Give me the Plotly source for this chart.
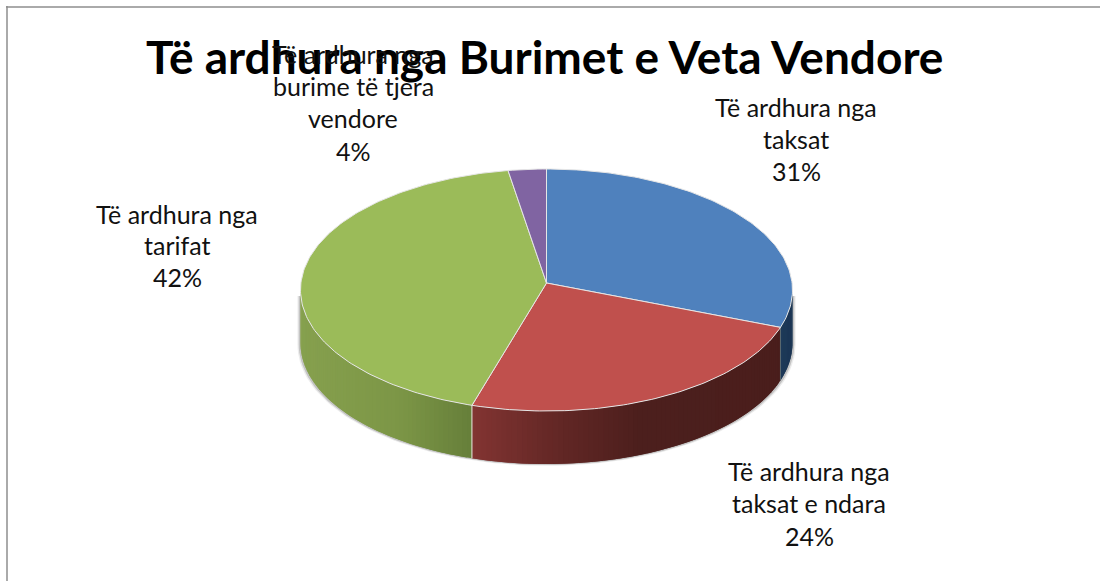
import math
import plotly.graph_objects as go

# --- data ---
categories = ["Të ardhura nga taksat", "Të ardhura nga taksat e ndara",
              "Të ardhura nga tarifat", "Të ardhura nga burime të tjera vendore"]
label_percent = ["31%", "24%", "42%", "4%"]          # printed on the chart
drawn_share = [30.0, 24.9, 42.6, 2.5]                # wedge sizes as drawn (perspective)
title_text = "Të ardhura nga Burimet e Veta Vendore"
label_lines = [["Të ardhura nga", "taksat"], ["Të ardhura nga", "taksat e ndara"],
               ["Të ardhura nga", "tarifat"], ["Të ardhura nga", "burime të tjera", "vendore"]]

# --- style / layout ---
top_colors = ["#4f81bd", "#c0504d", "#9bbb59", "#8064a2"]
wall_stops = [
    [(780, (30, 58, 90)), (793, (26, 52, 82))],
    [(472, (130, 52, 50)), (560, (98, 39, 37)), (640, (76, 31, 29)), (790, (74, 30, 28))],
    [(300, (134, 160, 78)), (400, (124, 150, 70)), (472, (102, 127, 58))],
    [(300, (90, 70, 110)), (793, (90, 70, 110))],
]
label_pos = [(796, [107, 139, 171]), (809, [471, 503, 536]),
             (177, [214, 245, 277]), (353, [54, 86, 118, 151])]
CX, CY, RX, RY, DEPTH = 546.5, 290.0, 246.0, 121.0, 53.0
APEX_Y = 283.0
FONT = "Lato"


def pt(deg, dy=0.0, grow=0.0):
    a = math.radians(deg)
    return CX + (RX + grow) * math.sin(a), CY - RY * math.cos(a) + dy


def wall_color(stops, x):
    if x <= stops[0][0]:
        c = stops[0][1]
    elif x >= stops[-1][0]:
        c = stops[-1][1]
    else:
        for (x0, c0), (x1, c1) in zip(stops, stops[1:]):
            if x0 <= x <= x1:
                t = (x - x0) / (x1 - x0)
                c = tuple(c0[i] + (c1[i] - c0[i]) * t for i in range(3))
                break
    return "rgb(%d,%d,%d)" % tuple(round(v) for v in c)


def frange(a, b, step):
    n = max(1, int(math.ceil((b - a) / step)))
    return [a + (b - a) * i / n for i in range(n + 1)]


total = sum(drawn_share)
edges = [0.0]
for v in drawn_share:
    edges.append(edges[-1] + v / total * 360)

fig = go.Figure()


def poly(xs, ys, fill, line=None, width=0):
    fig.add_trace(go.Scatter(x=xs, y=ys, mode="lines", fill="toself" if fill else None,
                             fillcolor=fill, line=dict(color=line or fill or "#000", width=width),
                             hoverinfo="skip", showlegend=False))


# soft shadow round the wall
for grow, col in [(3.0, "#ececec"), (1.8, "#c4c4c4")]:
    arc = [pt(d, DEPTH + grow * 0.6, grow) for d in frange(90, 270, 2)]
    upper = [pt(270, 6, grow), pt(90, 6, grow)]
    xs = [p[0] for p in arc] + [p[0] for p in upper] + [arc[0][0]]
    ys = [p[1] for p in arc] + [p[1] for p in upper] + [arc[0][1]]
    poly(xs, ys, col)

# walls (front half only); each strip overlaps the next to avoid seams
for i in range(len(drawn_share)):
    a, b = max(edges[i], 90), min(edges[i + 1], 270)
    if b <= a:
        continue
    angs = frange(a, b, 1.2)
    for k, (d0, d1) in enumerate(zip(angs, angs[1:])):
        x0, y0 = pt(d0)
        x1, y1 = pt(min(d1 + 1.2, b))
        col = wall_color(wall_stops[i], pt((d0 + d1) / 2)[0])
        mid = pt((d0 + min(d1 + 1.2, b)) / 2)
        poly([x0, mid[0], x1, x1, mid[0], x0, x0],
             [y0, mid[1], y1, y1 + DEPTH, mid[1] + DEPTH, y0 + DEPTH, y0], col)

# wall seams
for i in [1, 2]:
    x, y = pt(edges[i])
    col = "#5a6a70" if i == 1 else "#e8e8e0"
    poly([x, x], [y, y + DEPTH], None, col, 1)

# top wedges
for i, color in enumerate(top_colors):
    pts = [pt(d) for d in frange(edges[i], edges[i + 1], 1)]
    xs = [CX] + [p[0] for p in pts] + [CX]
    ys = [APEX_Y] + [p[1] for p in pts] + [APEX_Y]
    poly(xs, ys, color, "#e6e6e6", 1)

annotations = [dict(x=544, y=56, text="<b>%s</b>" % title_text, showarrow=False,
                    xref="x", yref="y", font=dict(family=FONT, size=46, color="#000000"))]
for lines, pct, (x, ys) in zip(label_lines, label_percent, label_pos):
    for txt, y in zip(lines + [pct], ys):
        annotations.append(dict(x=x, y=y, text=txt, showarrow=False, xref="x", yref="y",
                                font=dict(family=FONT, size=25, color="#111111")))

fig.update_layout(
    width=1100, height=581, margin=dict(l=0, r=0, t=0, b=0),
    paper_bgcolor="#ffffff", plot_bgcolor="#ffffff", showlegend=False,
    xaxis=dict(range=[0, 1100], visible=False, fixedrange=True),
    yaxis=dict(range=[581, 0], visible=False, fixedrange=True),
    annotations=annotations,
    shapes=[dict(type="line", xref="x", yref="y", x0=7, x1=7, y0=6, y1=581,
                 line=dict(color="#8e8e8e", width=1.5)),
            dict(type="line", xref="x", yref="y", x0=6, x1=1100, y0=7, y1=7,
                 line=dict(color="#8e8e8e", width=1.5))],
)
fig.write_html("out.html", config=dict(displayModeBar=False),
               post_script="document.body.style.margin='0';document.body.style.overflow='hidden';")
